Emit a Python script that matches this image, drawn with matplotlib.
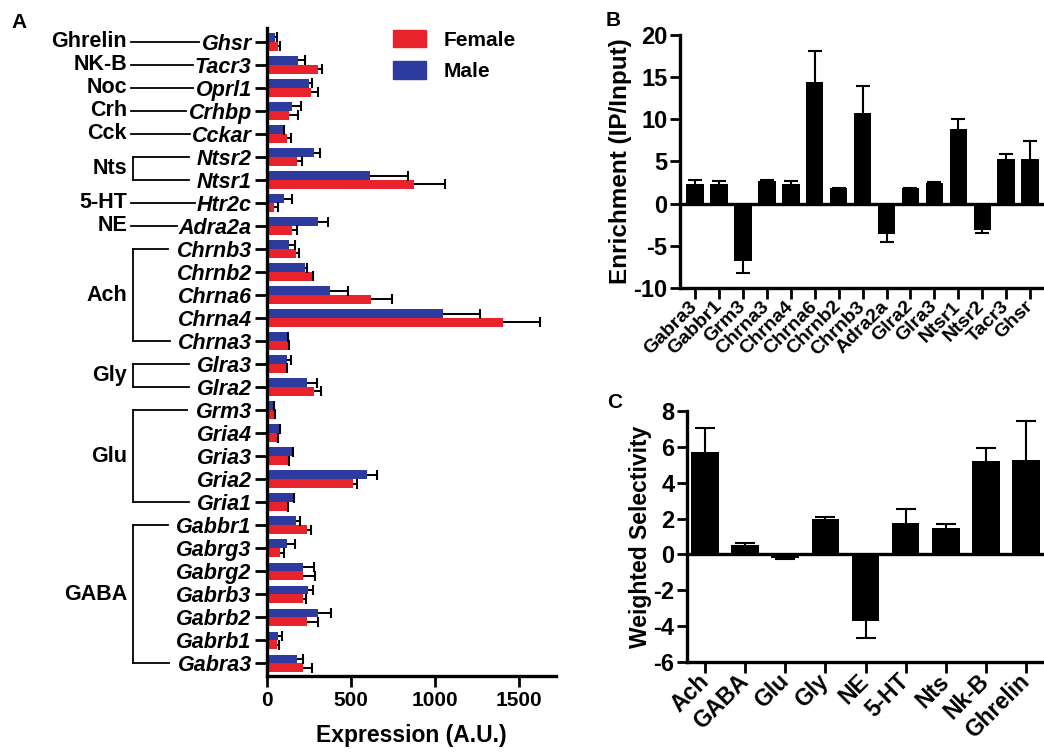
import numpy as np
import matplotlib
matplotlib.use("Agg")
import matplotlib.pyplot as plt
import matplotlib.transforms as mtransforms
from matplotlib.lines import Line2D
from matplotlib.patches import Patch

plt.rcParams['font.family'] = ['Liberation Sans', 'DejaVu Sans']
plt.rcParams['font.weight'] = 'bold'
plt.rcParams['axes.labelweight'] = 'bold'
plt.rcParams['axes.unicode_minus'] = False

# ---- panel A: receptor expression by sex ----
genes = ['Ghsr', 'Tacr3', 'Oprl1', 'Crhbp', 'Cckar', 'Ntsr2', 'Ntsr1', 'Htr2c',
         'Adra2a', 'Chrnb3', 'Chrnb2', 'Chrna6', 'Chrna4', 'Chrna3', 'Glra3',
         'Glra2', 'Grm3', 'Gria4', 'Gria3', 'Gria2', 'Gria1', 'Gabbr1', 'Gabrg3',
         'Gabrg2', 'Gabrb3', 'Gabrb2', 'Gabrb1', 'Gabra3']
male = [47, 185, 249, 149, 94, 277, 611, 100, 306, 132, 228, 377, 1047, 121, 117,
        238, 36, 74, 153, 596, 153, 170, 121, 217, 243, 302, 68, 179]
male_err = [10, 43, 21, 51, 5, 40, 227, 49, 56, 36, 10, 106, 223, 3, 26,
            60, 4, 5, 3, 57, 7, 26, 47, 64, 32, 81, 21, 34]
female = [68, 302, 264, 128, 117, 181, 877, 43, 149, 174, 266, 621, 1404, 126, 111,
          281, 40, 57, 128, 511, 121, 238, 79, 217, 213, 238, 57, 217]
female_err = [10, 28, 38, 57, 26, 25, 181, 21, 30, 15, 9, 122, 218, 3, 8,
              42, 7, 6, 4, 25, 3, 22, 21, 70, 21, 68, 15, 53]

# transmitter groups: (label, first gene row, last gene row)
transmitters = [('Ghrelin', 0, 0), ('NK-B', 1, 1), ('Noc', 2, 2), ('Crh', 3, 3),
                ('Cck', 4, 4), ('Nts', 5, 6), ('5-HT', 7, 7), ('NE', 8, 8),
                ('Ach', 9, 13), ('Gly', 14, 15), ('Glu', 16, 20), ('GABA', 21, 27)]

# ---- panel B: enrichment ----
enr_genes = ['Gabra3', 'Gabbr1', 'Grm3', 'Chrna3', 'Chrna4', 'Chrna6', 'Chrnb2',
             'Chrnb3', 'Adra2a', 'Glra2', 'Glra3', 'Ntsr1', 'Ntsr2', 'Tacr3', 'Ghsr']
enrich = [2.35, 2.28, -6.85, 2.7, 2.36, 14.45, 1.8, 10.75, -3.6, 1.8, 2.45, 8.9,
          -3.1, 5.24, 5.3]
enrich_err = [0.4, 0.36, 1.35, 0.1, 0.28, 3.7, 0.05, 3.15, 1.0, 0.05, 0.1, 1.1,
              0.4, 0.7, 2.1]

# ---- panel C: weighted selectivity ----
sel_groups = ['Ach', 'GABA', 'Glu', 'Gly', 'NE', '5-HT', 'Nts', 'Nk-B', 'Ghrelin']
selectivity = [5.69, 0.54, -0.2, 1.97, -3.74, 1.77, 1.47, 5.19, 5.27]
selectivity_err = [1.36, 0.07, 0.08, 0.11, 0.91, 0.76, 0.22, 0.73, 2.17]

RED = '#e8232b'
BLUE = '#2d3a9e'
W, H = 1044, 754


def px_axes(fig, left, top, right, bottom):
    return fig.add_axes([left / W, 1 - bottom / H, (right - left) / W, (bottom - top) / H])


def style_axes(ax, spine_lw=2.4):
    for s in ['top', 'right']:
        ax.spines[s].set_visible(False)
    for s in ['left', 'bottom']:
        ax.spines[s].set_linewidth(spine_lw)
    ax.tick_params(width=2.0, length=6, color='black')


def signed_errorbars(ax, x, vals, errs, capsize):
    vals = np.asarray(vals)
    errs = np.asarray(errs)
    up = np.where(vals >= 0, errs, 0)
    down = np.where(vals < 0, errs, 0)
    ax.errorbar(x, vals, yerr=[down, up], fmt='none', ecolor='black',
                elinewidth=1.5, capsize=0, zorder=3)
    ends = vals + np.where(vals >= 0, errs, -errs)
    ax.plot(x, ends, ls='none', marker='_', ms=capsize, mew=1.5, color='black', zorder=3)


fig = plt.figure(figsize=(W / 100, H / 100), dpi=100)

# ---------------- A ----------------
axA = px_axes(fig, 267, 28, 556, 676)
y = np.arange(len(genes))
h = 0.38
axA.barh(y - h / 2, male, height=h, color=BLUE, label='Male', zorder=2)
axA.barh(y + h / 2, female, height=h, color=RED, label='Female', zorder=2)
for vals, errs, off in [(male, male_err, -h / 2), (female, female_err, h / 2)]:
    vals = np.asarray(vals)
    axA.errorbar(vals, y + off, xerr=[np.zeros(len(vals)), errs], fmt='none',
                 ecolor='black', elinewidth=1.4, capsize=0, zorder=3)
    axA.plot(vals + np.asarray(errs), y + off, ls='none', marker='|', ms=7,
             mew=1.5, color='black', zorder=3)
axA.set_ylim(27.55, -0.6)
axA.set_xlim(0, 1720)
axA.set_xticks([0, 500, 1000, 1500])
axA.set_yticks(y)
axA.set_yticklabels(genes, fontsize=15.5, fontstyle='italic', fontweight='bold')
style_axes(axA)
axA.tick_params(axis='y', length=9, pad=2)
axA.tick_params(axis='x', length=8, labelsize=15, pad=3)
axA.set_xlabel('Expression (A.U.)', fontsize=16.5, labelpad=10)

handles = [Patch(color=RED), Patch(color=BLUE)]
fig.legend(handles, ['Female', 'Male'], loc='upper left',
           bbox_to_anchor=(393 / W, 1 - 30 / H), frameon=False, fontsize=15,
           handlelength=1.6, handleheight=0.9, handletextpad=0.85,
           labelspacing=0.55, borderpad=0, borderaxespad=0)

# ---------------- B ----------------
axB = px_axes(fig, 680, 35, 1044, 288)
xb = np.arange(len(enr_genes))
axB.bar(xb, enrich, width=0.73, color='black', zorder=2)
signed_errorbars(axB, xb, enrich, enrich_err, capsize=10)
axB.axhline(0, color='black', lw=2.4, zorder=4)
axB.set_xlim(-0.63, 14.58)
axB.set_ylim(-10, 20)
axB.set_yticks([-10, -5, 0, 5, 10, 15, 20])
style_axes(axB)
axB.tick_params(axis='y', labelsize=17, length=7, pad=2)
axB.tick_params(axis='x', length=8)
axB.set_xticks(xb)
axB.set_xticklabels(enr_genes, rotation=45, ha='right', va='center',
                    rotation_mode='anchor', fontsize=14)
axB.set_ylabel('Enrichment (IP/Input)', fontsize=17.5, labelpad=1)

# ---------------- C ----------------
axC = px_axes(fig, 687, 411, 1044, 662)
xc = np.arange(len(sel_groups))
axC.bar(xc, selectivity, width=0.69, color='black', zorder=2)
signed_errorbars(axC, xc, selectivity, selectivity_err, capsize=14)
axC.axhline(0, color='black', lw=2.4, zorder=4)
axC.set_xlim(-0.45, 8.45)
axC.set_ylim(-6, 8)
axC.set_yticks(np.arange(-6, 9, 2))
style_axes(axC)
axC.tick_params(axis='y', labelsize=17, length=7, pad=2)
axC.tick_params(axis='x', length=8)
axC.set_xticks(xc)
axC.set_xticklabels(sel_groups, rotation=45, ha='right', va='center',
                    rotation_mode='anchor', fontsize=16.5)
axC.set_ylabel('Weighted Selectivity', fontsize=16.5, labelpad=1)

# panel letters
for letter, px, py in [('A', 19, 22), ('B', 613, 20), ('C', 615, 403)]:
    fig.text(px / W, 1 - py / H, letter, fontsize=15, fontweight='bold',
             ha='center', va='center')

# ---- transmitter labels with connectors / brackets next to gene names ----
fig.canvas.draw()
renderer = fig.canvas.get_renderer()
label_left = [lab.get_window_extent(renderer).x0 / W for lab in axA.get_yticklabels()]
trans = mtransforms.blended_transform_factory(fig.transFigure, axA.transData)
text_right = 127 / W
bracket_x = 133 / W
for name, first, last in transmitters:
    ymid = (first + last) / 2
    fig.text(text_right, ymid, name, transform=trans, ha='right', va='center',
             fontsize=15.5, fontweight='bold')
    if first == last:
        fig.add_artist(Line2D([131 / W, label_left[first] - 2 / W], [first, first],
                              transform=trans, color='black', lw=1.3))
    else:
        fig.add_artist(Line2D([bracket_x, bracket_x], [first, last],
                              transform=trans, color='black', lw=1.3))
        for row in (first, last):
            fig.add_artist(Line2D([bracket_x, label_left[row] - 8 / W], [row, row],
                                  transform=trans, color='black', lw=1.3))

fig.savefig('out.png', dpi=100)
